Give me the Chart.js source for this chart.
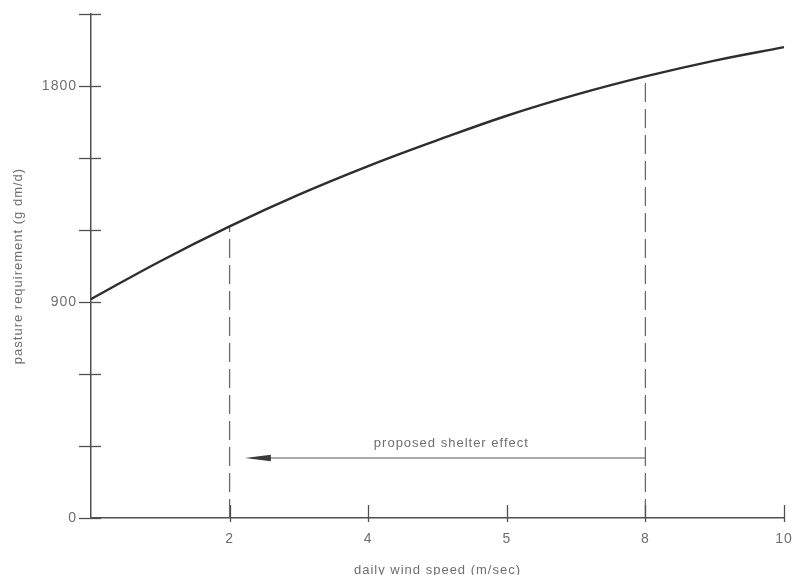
<!DOCTYPE html>
<html>
<head>
<meta charset="utf-8">
<script src="https://cdn.jsdelivr.net/npm/chart.js@4"></script>
<style>
  html, body { margin: 0; padding: 0; background: #ffffff; }
  #wrap { width: 793px; height: 575px; }
</style>
</head>
<body>
<div id="wrap"><canvas id="c" width="793" height="575"></canvas></div>
<script>
// Daily wind speed (m/sec) and pasture requirement (g dm/d)
const windSpeed = [0, 1, 2, 3, 4, 5, 6, 7, 8, 9, 10];
const pastureRequirement = [912, 1070, 1215, 1347, 1466, 1574, 1676, 1764, 1840, 1906, 1962];

// Axis ticks
const xTickValues = [2, 4, 6, 8, 10];
const xTickLabels = ['2', '4', '5', '8', '10'];
const yTickValues = [0, 300, 600, 900, 1200, 1500, 1800, 2100];
const yTickLabels = ['0', '', '', '900', '', '', '1800', ''];

// Shelter effect: wind speed reduced from 8 to 2 m/sec
const shelterSpeeds = [8, 2];
const arrowLevel = 250;
const arrowTipSpeed = 2.22;
const shelterLabel = 'proposed shelter effect';
const shelterLabelPos = [5.2, 312];

const ink = '#2e2e2e';
const axisInk = '#505050';
const textInk = '#6e6e6e';
const fontFamily = '"Liberation Sans", Arial, sans-serif';

const curveData = windSpeed.map((x, i) => ({ x, y: pastureRequirement[i] }));
const reqAt = (s) => pastureRequirement[windSpeed.indexOf(s)];

const dropLines = shelterSpeeds.map(s => ({
  data: [{ x: s, y: 0 }, { x: s, y: reqAt(s) }],
  borderColor: '#6a6a6a',
  borderWidth: 1.3,
  borderDash: [19, 7],
  pointRadius: 0,
  fill: false,
  clip: false
}));

const arrowLine = {
  data: [{ x: shelterSpeeds[0], y: arrowLevel }, { x: arrowTipSpeed + 0.3, y: arrowLevel }],
  borderColor: '#555',
  borderWidth: 1,
  pointRadius: 0,
  fill: false,
  clip: false
};

// Widely spaced lettering for all text
const spacedText = {
  id: 'spacedText',
  beforeUpdate(chart) { chart.ctx.letterSpacing = '1px'; },
  beforeDraw(chart) { chart.ctx.letterSpacing = '1px'; }
};

// Tick marks crossing the axes, arrowhead and annotation text
const decorations = {
  id: 'decorations',
  afterDatasetsDraw(chart) {
    const { ctx, scales: { x, y } } = chart;
    const ax = x.getPixelForValue(0);
    const ay = y.getPixelForValue(0);
    ctx.save();
    ctx.strokeStyle = axisInk;
    ctx.lineWidth = 1.3;
    yTickValues.forEach(v => {
      const py = Math.round(y.getPixelForValue(v)) + 0.5;
      ctx.beginPath();
      ctx.moveTo(ax - 12, py);
      ctx.lineTo(ax + 10, py);
      ctx.stroke();
    });
    xTickValues.forEach(v => {
      const px = Math.round(x.getPixelForValue(v)) + 0.5;
      ctx.beginPath();
      ctx.moveTo(px, ay - 13);
      ctx.lineTo(px, ay + 4);
      ctx.stroke();
    });

    // arrowhead pointing left
    const tipX = x.getPixelForValue(arrowTipSpeed);
    const tipY = y.getPixelForValue(arrowLevel);
    ctx.fillStyle = '#3a3a3a';
    ctx.beginPath();
    ctx.moveTo(tipX, tipY);
    ctx.lineTo(tipX + 26, tipY - 3.2);
    ctx.lineTo(tipX + 26, tipY + 3.2);
    ctx.closePath();
    ctx.fill();

    ctx.fillStyle = textInk;
    ctx.font = '13px ' + fontFamily;
    ctx.letterSpacing = '1px';
    ctx.textAlign = 'center';
    ctx.textBaseline = 'middle';
    ctx.fillText(shelterLabel, x.getPixelForValue(shelterLabelPos[0]), y.getPixelForValue(shelterLabelPos[1]));
    ctx.restore();
  }
};

new Chart(document.getElementById('c'), {
  type: 'line',
  data: {
    datasets: [
      {
        data: curveData,
        borderColor: ink,
        borderWidth: 2.4,
        pointRadius: 0,
        tension: 0.4,
        fill: false,
        clip: false
      },
      ...dropLines,
      arrowLine
    ]
  },
  options: {
    responsive: false,
    devicePixelRatio: 1,
    animation: false,
    layout: { padding: { top: 14, right: 9, bottom: 0, left: 0 } },
    plugins: { legend: { display: false }, tooltip: { enabled: false } },
    scales: {
      x: {
        type: 'linear',
        min: 0,
        max: 10,
        afterFit(scale) {
          scale.height = 57;
          scale.paddingLeft = 0;
          scale.paddingRight = 0;
        },
        afterBuildTicks(scale) { scale.ticks = xTickValues.map(v => ({ value: v })); },
        grid: { display: false, drawTicks: false },
        border: { display: true, color: axisInk, width: 1.5 },
        ticks: {
          padding: 13,
          color: textInk,
          font: { family: fontFamily, size: 14 },
          maxRotation: 0,
          callback: (v) => { const i = xTickValues.indexOf(v); return i < 0 ? '' : xTickLabels[i]; }
        },
        title: {
          display: true,
          text: 'daily wind speed (m/sec)',
          color: textInk,
          font: { family: fontFamily, size: 13 },
          padding: { top: 0, bottom: -3 }
        }
      },
      y: {
        type: 'linear',
        min: 0,
        max: 2100,
        afterFit(scale) {
          scale.width = 91;
          scale.paddingTop = 0;
          scale.paddingBottom = 0;
        },
        afterBuildTicks(scale) { scale.ticks = yTickValues.map(v => ({ value: v })); },
        grid: { display: false, drawTicks: false },
        border: { display: true, color: axisInk, width: 1.5 },
        ticks: {
          padding: 14,
          color: textInk,
          font: { family: fontFamily, size: 14 },
          callback: (v) => { const i = yTickValues.indexOf(v); return i < 0 ? '' : yTickLabels[i]; }
        },
        title: {
          display: true,
          text: 'pasture requirement (g dm/d)',
          color: textInk,
          font: { family: fontFamily, size: 13 },
          padding: { top: 11, bottom: 0 }
        }
      }
    }
  },
  plugins: [spacedText, decorations]
});
</script>
</body>
</html>
